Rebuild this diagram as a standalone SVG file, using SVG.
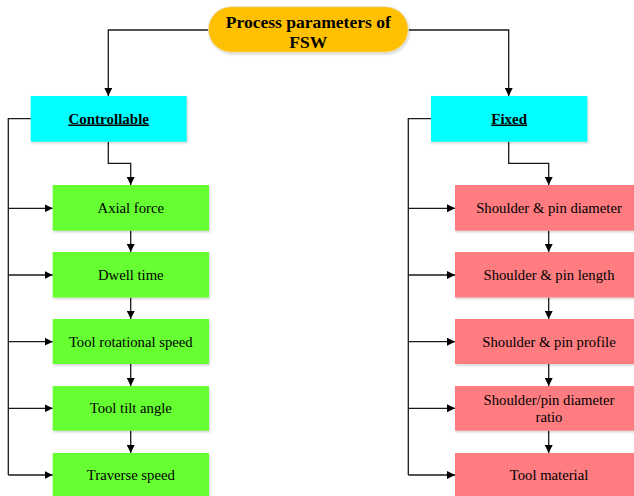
<svg xmlns="http://www.w3.org/2000/svg" width="634" height="496" viewBox="0 0 634 496" font-family="'Liberation Serif', 'Times New Roman', Times, serif">
  <defs>
    <marker id="arrow" viewBox="0 0 8 8" refX="8" refY="4" markerWidth="8" markerHeight="8" markerUnits="userSpaceOnUse" orient="auto">
      <path d="M0,0 L8,4 L0,8 Z" fill="#000"/>
    </marker>
    <filter id="shadow" x="-5%" y="-10%" width="115%" height="130%">
      <feDropShadow dx="1" dy="1.5" stdDeviation="1" flood-color="#000" flood-opacity="0.18"/>
    </filter>
  </defs>
  <style>
    .link { fill: none; stroke: #1a1a1a; stroke-width: 1.3; }
    .arr { marker-end: url(#arrow); }
    .head { fill: #00ffff; }
    .ctrl { fill: #66ff33; }
    .fix { fill: #ff7c80; }
    .box { filter: url(#shadow); }
    text { font-family: 'Liberation Serif', 'Times New Roman', Times, serif; fill: #000; text-anchor: middle; }
    .title { font-weight: bold; font-size: 17.5px; }
    .hd { font-weight: bold; font-size: 15px; text-decoration: underline; }
    .lbl { font-size: 14.7px; }
  </style>

  <!-- connectors -->
  <g id="connectors">
    <!-- root to categories -->
    <path class="link arr" d="M208.5,30 H108.3 V96"/>
    <path class="link arr" d="M408.5,30 H508.7 V96"/>
    <!-- controllable chain -->
    <path class="link arr" d="M108.3,141.7 V163.3 H130.7 V185"/>
    <path class="link arr" d="M130.7,230.7 V252"/>
    <path class="link arr" d="M130.7,297.5 V319"/>
    <path class="link arr" d="M130.7,364 V386"/>
    <path class="link arr" d="M130.7,430.7 V453"/>
    <!-- controllable bus -->
    <path class="link" d="M31,118.7 H8.3 V475"/>
    <path class="link arr" d="M8.3,208.3 H52.7"/>
    <path class="link arr" d="M8.3,275 H52.7"/>
    <path class="link arr" d="M8.3,341.7 H52.7"/>
    <path class="link arr" d="M8.3,408.3 H52.7"/>
    <path class="link arr" d="M8.3,475 H52.7"/>
    <!-- fixed chain -->
    <path class="link arr" d="M508.7,141.7 V163.3 H548.7 V185"/>
    <path class="link arr" d="M548.7,230.7 V252"/>
    <path class="link arr" d="M548.7,297.5 V319"/>
    <path class="link arr" d="M548.7,364 V386"/>
    <path class="link arr" d="M548.7,430.7 V453"/>
    <!-- fixed bus -->
    <path class="link" d="M431,118.7 H408.3 V475"/>
    <path class="link arr" d="M408.3,208.3 H455"/>
    <path class="link arr" d="M408.3,275 H455"/>
    <path class="link arr" d="M408.3,341.7 H455"/>
    <path class="link arr" d="M408.3,408.3 H455"/>
    <path class="link arr" d="M408.3,475 H455"/>
  </g>

  <!-- root -->
  <g id="root">
    <rect x="208.3" y="6.7" width="200" height="45.6" rx="22.8" fill="#ffc000" stroke="#e8e0c8" stroke-width="1" filter="url(#shadow)"/>
    <text class="title" x="308.3" y="28.3">Process parameters of</text>
    <text class="title" x="308.3" y="47.6">FSW</text>
  </g>

  <!-- categories -->
  <g id="controllable">
    <rect class="head box" x="30.7" y="96" width="156" height="45.7"/>
    <text class="hd" x="108.7" y="123.5">Controllable</text>
  </g>
  <g id="fixed">
    <rect class="head box" x="431" y="96" width="156.3" height="45.7"/>
    <text class="hd" x="509.2" y="123.5">Fixed</text>
  </g>

  <!-- controllable parameters -->
  <g id="axial-force">
    <rect class="ctrl box" x="52.7" y="185" width="156.3" height="45.7"/>
    <text class="lbl" x="130.8" y="213.2">Axial force</text>
  </g>
  <g id="dwell-time">
    <rect class="ctrl box" x="52.7" y="252" width="156.3" height="45.5"/>
    <text class="lbl" x="130.8" y="280">Dwell time</text>
  </g>
  <g id="tool-rotational-speed">
    <rect class="ctrl box" x="52.7" y="319" width="156.3" height="45"/>
    <text class="lbl" x="130.8" y="346.6">Tool rotational speed</text>
  </g>
  <g id="tool-tilt-angle">
    <rect class="ctrl box" x="52.7" y="386" width="156.3" height="44.7"/>
    <text class="lbl" x="130.8" y="413.2">Tool tilt angle</text>
  </g>
  <g id="traverse-speed">
    <rect class="ctrl box" x="52.7" y="453" width="156.3" height="45"/>
    <text class="lbl" x="130.8" y="479.8">Traverse speed</text>
  </g>

  <!-- fixed parameters -->
  <g id="shoulder-pin-diameter">
    <rect class="fix box" x="455" y="185" width="188" height="45.7"/>
    <text class="lbl" x="549" y="213.2">Shoulder &amp; pin diameter</text>
  </g>
  <g id="shoulder-pin-length">
    <rect class="fix box" x="455" y="252" width="188" height="45.5"/>
    <text class="lbl" x="549" y="280">Shoulder &amp; pin length</text>
  </g>
  <g id="shoulder-pin-profile">
    <rect class="fix box" x="455" y="319" width="188" height="45"/>
    <text class="lbl" x="549" y="346.6">Shoulder &amp; pin profile</text>
  </g>
  <g id="shoulder-pin-ratio">
    <rect class="fix box" x="455" y="386" width="188" height="44.7"/>
    <text class="lbl" x="549" y="405.3">Shoulder/pin diameter</text>
    <text class="lbl" x="549" y="422">ratio</text>
  </g>
  <g id="tool-material">
    <rect class="fix box" x="455" y="453" width="188" height="45"/>
    <text class="lbl" x="549" y="479.8">Tool material</text>
  </g>
</svg>
